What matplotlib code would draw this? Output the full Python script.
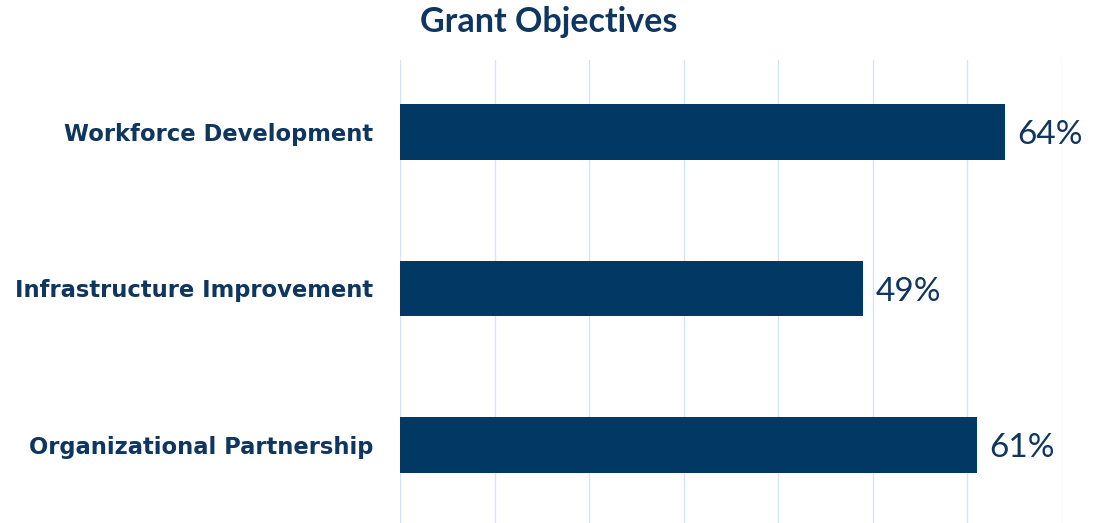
import matplotlib
matplotlib.use("Agg")
import matplotlib.pyplot as plt

categories = ["Workforce Development", "Infrastructure Improvement", "Organizational Partnership"]
values = [64, 49, 61]
value_labels = ["64%", "49%", "61%"]
title = "Grant Objectives"

bar_color = "#023864"
text_color = "#0F3660"
grid_color = "#D5E5F5"

fig = plt.figure(figsize=(10.94, 5.23), dpi=100)
ax = fig.add_axes([400/1094, 0.0, (1062-400)/1094, 1 - 60/523])

y = list(range(len(categories)))
ax.barh(y, values, height=0.355, color=bar_color, zorder=3)
ax.set_xlim(0, 70)
ax.set_ylim(2.5, -0.46)
ax.set_xticks(range(0, 71, 10))
ax.xaxis.grid(True, color=grid_color, linewidth=1, zorder=0)
ax.tick_params(axis="x", length=0, labelbottom=False)
ax.tick_params(axis="y", length=0, pad=19)
ax.set_yticks(y)
ax.set_yticklabels(categories, fontsize=16.3, fontweight="bold", color=text_color, family="DejaVu Sans")
for s in ax.spines.values():
    s.set_visible(False)

for yi, v, lab in zip(y, values, value_labels):
    ax.text(v + 1.3, yi + 0.02, lab, va="center", ha="left", fontsize=24, color=text_color, family="Lato")

fig.text(549/1094, 1 - 22/523, title, ha="center", va="center", fontsize=24.5,
         fontweight="bold", color=text_color, family="Lato")

fig.savefig("out.png", dpi=100)
